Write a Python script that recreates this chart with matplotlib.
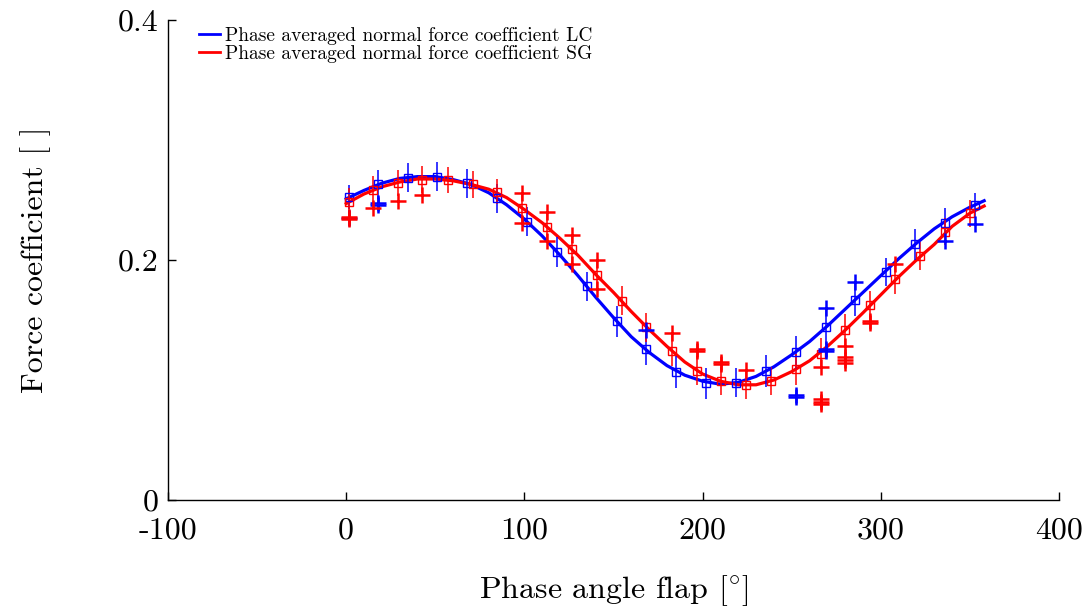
import matplotlib
matplotlib.use('Agg')
import matplotlib.pyplot as plt

plt.rcParams['font.family'] = 'cmr10'
plt.rcParams['mathtext.fontset'] = 'cm'
plt.rcParams['axes.formatter.use_mathtext'] = True

# ---- data ----
curve_x = [0, 10, 20, 30, 40, 50, 60, 70, 80, 90, 100, 110, 120, 130, 140, 150, 160, 170,
           180, 190, 200, 210, 220, 230, 240, 250, 260, 270, 280, 290, 300, 310, 320, 330,
           340, 350, 358]
lc_curve = [0.251, 0.258, 0.264, 0.268, 0.2695, 0.2695, 0.267, 0.263, 0.256, 0.246, 0.234,
            0.220, 0.204, 0.187, 0.169, 0.152, 0.136, 0.123, 0.112, 0.104, 0.099, 0.0965,
            0.098, 0.103, 0.111, 0.121, 0.132, 0.145, 0.159, 0.173, 0.187, 0.201, 0.214,
            0.226, 0.236, 0.244, 0.2494]
sg_curve = [0.247, 0.255, 0.261, 0.265, 0.2675, 0.2675, 0.266, 0.263, 0.259, 0.252, 0.242,
            0.231, 0.218, 0.204, 0.188, 0.173, 0.157, 0.142, 0.128, 0.115, 0.105, 0.099,
            0.096, 0.096, 0.100, 0.107, 0.116, 0.128, 0.1415, 0.156, 0.171, 0.186, 0.200,
            0.213, 0.228, 0.239, 0.245]

lc_phase = [1.7, 18.0, 34.4, 51.1, 67.7, 84.9, 101.4, 118.2, 135.1, 151.7, 168.5, 185.0,
            201.8, 218.7, 235.5, 252.4, 269.2, 285.6, 302.7, 319.3, 336.1, 352.6]
lc_mean = [0.2527, 0.263, 0.2686, 0.2694, 0.264, 0.2514, 0.232, 0.207, 0.178, 0.149, 0.1256,
           0.107, 0.0972, 0.0978, 0.1075, 0.123, 0.1444, 0.1667, 0.190, 0.2131, 0.2311, 0.2458]
lc_err = [0.010, 0.012, 0.012, 0.012, 0.012, 0.012, 0.012, 0.0125, 0.012, 0.013, 0.013,
          0.014, 0.013, 0.012, 0.013, 0.014, 0.014, 0.013, 0.012, 0.013, 0.012, 0.010]

sg_phase = [1.7, 14.8, 28.8, 42.8, 56.9, 70.9, 84.9, 98.6, 112.6, 126.7, 140.5, 154.5, 168.5,
            182.6, 196.6, 210.6, 224.6, 238.3, 252.4, 266.4, 280.0, 294.0, 308.1, 322.1,
            336.1, 350.2]
sg_mean = [0.2486, 0.258, 0.2644, 0.267, 0.2667, 0.263, 0.2569, 0.2436, 0.2278, 0.209, 0.1875,
           0.166, 0.144, 0.1244, 0.1078, 0.0992, 0.0958, 0.0992, 0.109, 0.122, 0.1417, 0.1625,
           0.1839, 0.2033, 0.2236, 0.2389]
sg_err = [0.011, 0.012, 0.011, 0.011, 0.011, 0.011, 0.0105, 0.013, 0.013, 0.013, 0.013, 0.012,
          0.012, 0.013, 0.012, 0.012, 0.012, 0.012, 0.013, 0.013, 0.013, 0.012, 0.012, 0.012,
          0.011, 0.011]

lc_plus_x = [1.7, 18.0, 18.0, 168.5, 252.4, 252.4, 269.2, 269.2, 269.2, 285.6, 336.1, 352.6]
lc_plus_y = [0.2347, 0.2478, 0.2462, 0.1417, 0.0876, 0.0858, 0.1597, 0.1259, 0.1241, 0.182,
             0.2158, 0.2297]

sg_plus_x = [1.7, 1.7, 14.8, 28.8, 42.8, 98.6, 98.6, 112.6, 112.6, 126.7, 126.7, 140.5, 140.5,
             182.6, 196.6, 196.6, 210.6, 210.6, 224.6, 266.4, 266.4, 266.4, 266.4, 280.0,
             280.0, 280.0, 280.0, 294.0, 294.0, 308.1]
sg_plus_y = [0.2355, 0.2340, 0.243, 0.249, 0.254, 0.256, 0.231, 0.240, 0.216, 0.221, 0.197,
             0.200, 0.176, 0.139, 0.1259, 0.1241, 0.1149, 0.1131, 0.108, 0.1106, 0.0842,
             0.082, 0.0798, 0.128, 0.1189, 0.1167, 0.1145, 0.1489, 0.1471, 0.197]

x_ticks = [-100, 0, 100, 200, 300, 400]
x_tick_labels = ['-100', '0', '100', '200', '300', '400']
y_ticks = [0, 0.2, 0.4]
y_tick_labels = ['0', '0.2', '0.4']

BLUE = '#0000ff'
RED = '#ff0000'

fig = plt.figure(figsize=(10.87, 6.09), dpi=100)
ax = fig.add_axes([168 / 1087, 1 - 500 / 609, (1059 - 168) / 1087, 480 / 609])

l1, = ax.plot(curve_x, lc_curve, color=BLUE, lw=2.3, zorder=3,
              label='Phase averaged normal force coefficient LC')
l2, = ax.plot(curve_x, sg_curve, color=RED, lw=2.3, zorder=3,
              label='Phase averaged normal force coefficient SG')

ax.errorbar(lc_phase, lc_mean, yerr=lc_err, fmt='s', color=BLUE, ecolor=BLUE, elinewidth=1.1,
            capsize=0, ms=5.5, mfc='none', mec=BLUE, mew=1.0, zorder=4)
ax.errorbar(sg_phase, sg_mean, yerr=sg_err, fmt='s', color=RED, ecolor=RED, elinewidth=1.1,
            capsize=0, ms=5.5, mfc='none', mec=RED, mew=1.0, zorder=4)

ax.plot(lc_plus_x, lc_plus_y, ls='none', marker='+', ms=12, mew=1.8, color=BLUE, zorder=5)
ax.plot(sg_plus_x, sg_plus_y, ls='none', marker='+', ms=12, mew=1.8, color=RED, zorder=6)

ax.set_xlim(-100, 400)
ax.set_ylim(0, 0.4)
ax.set_xticks(x_ticks)
ax.set_xticklabels(x_tick_labels)
ax.set_yticks(y_ticks)
ax.set_yticklabels(y_tick_labels)
ax.spines['top'].set_visible(False)
ax.spines['right'].set_visible(False)
for s in ('left', 'bottom'):
    ax.spines[s].set_linewidth(1.0)
ax.tick_params(direction='in', length=6, width=1.0, labelsize=23)
ax.tick_params(axis='x', pad=12)
ax.tick_params(axis='y', pad=7)

ax.set_xlabel(r'Phase angle flap [$^{\circ}$]', fontsize=23, labelpad=21)
ax.set_ylabel('Force coefficient [ ]', fontsize=23, labelpad=48)

leg = ax.legend(handles=[l1, l2], loc='upper left', bbox_to_anchor=(0.035, 0.985),
                frameon=False, fontsize=14, handlelength=1.05, handletextpad=0.3,
                labelspacing=0.0, borderpad=0.0, borderaxespad=0.0)
for h in leg.get_lines():
    h.set_linewidth(2.0)

fig.savefig('out.png', dpi=100)
